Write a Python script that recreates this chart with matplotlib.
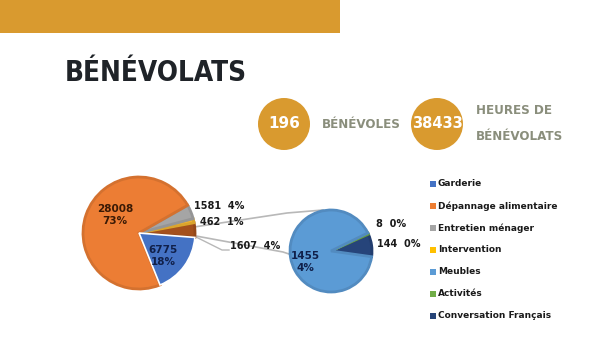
import numpy as np
import matplotlib
matplotlib.use('Agg')
import matplotlib.pyplot as plt
from matplotlib import font_manager
from matplotlib.patches import Circle, Rectangle

#------ donnees ------
main_labels = ['Autres', 'Intervention', 'Entretien ménager', 'Dépannage alimentaire', 'Garderie']
main_values = [1607, 462, 1581, 28008, 6775]
main_colors = ['#A4501C', '#F2B632', '#A5A5A5', '#EC7D34', '#4472C4']

sub_labels = ['Conversation Français', 'Activités', 'Meubles']
sub_values = [144, 8, 1455]
sub_colors = ['#26447A', '#70AD47', '#5B9BD5']

legend_labels = ['Garderie', 'Dépannage alimentaire', 'Entretien ménager', 'Intervention',
                 'Meubles', 'Activités', 'Conversation Français']
legend_colors = ['#4472C4', '#ED7D31', '#A5A5A5', '#FFC000', '#5B9BD5', '#70AD47', '#264478']

nb_benevoles = 196
nb_heures = 38433

gold = '#D99A2F'

# police condensee pour les titres (si dispo)
cond_file = None
for f in font_manager.fontManager.ttflist:
    fn = f.fname.lower()
    if ('condensed' in fn or 'narrow' in fn) and 'bold' in fn and 'italic' not in fn and 'oblique' not in fn:
        cond_file = f.fname
        break
if cond_file:
    title_fp = font_manager.FontProperties(fname=cond_file)
    tsize, ssize = 20, 9.5
else:
    title_fp = font_manager.FontProperties(family='DejaVu Sans', weight='bold')
    tsize, ssize = 16, 8

W, H = 600, 337
def Y(y):
    return H - y

fig = plt.figure(figsize=(6, 3.37), dpi=100)
ax = fig.add_axes([0, 0, 1, 1])

# bandeau
ax.add_patch(Rectangle((0, Y(33)), 340, 33, color=gold, lw=0))

ax.text(65, Y(73), 'BÉNÉVOLATS', fontproperties=title_fp, fontsize=tsize,
        color='#1F2328', va='center', ha='left')

# pastilles
sub_col = '#8A8E7C'
ax.add_patch(Circle((284, Y(124)), 26, color=gold, lw=0))
ax.text(284, Y(124), str(nb_benevoles), color='white', fontsize=11, fontweight='bold',
        ha='center', va='center')
ax.text(322, Y(124), 'BÉNÉVOLES', color=sub_col, fontproperties=title_fp, fontsize=ssize,
        ha='left', va='center')
ax.add_patch(Circle((437, Y(124)), 26, color=gold, lw=0))
ax.text(437, Y(124), str(nb_heures), color='white', fontsize=10.5, fontweight='bold',
        ha='center', va='center')
ax.text(476, Y(111), 'HEURES DE', color=sub_col, fontproperties=title_fp, fontsize=ssize,
        ha='left', va='center')
ax.text(476, Y(136), 'BÉNÉVOLATS', color=sub_col, fontproperties=title_fp, fontsize=ssize,
        ha='left', va='center')

def darker(c, f=0.85):
    r, g, b = matplotlib.colors.to_rgb(c)
    return (r * f, g * f, b * f)

# lignes de liaison (derriere)
lc = '#B8B8B8'
ax.plot([194, 287, 323], [Y(227), Y(213), Y(210)], color=lc, lw=1.2, zorder=1)
ax.plot([196, 283, 289], [Y(236), Y(252), Y(254)], color=lc, lw=1.2, zorder=1)
ax.plot([192, 222, 229], [Y(235), Y(250), Y(250)], color=lc, lw=1.0, zorder=1)

# camembert principal
tot = sum(main_values)
start = -main_values[0] / tot * 360 / 2 + 3
explode = [0, 0, 0, 0, 0.05]
wedges, _ = ax.pie(main_values, colors=main_colors, startangle=start, counterclock=True,
                   center=(139, Y(233)), radius=56, explode=explode, frame=True,
                   wedgeprops=dict(lw=0))
for w, c in zip(wedges, main_colors):
    w.set_zorder(2)
    w.set_edgecolor(darker(c, 0.9))
    w.set_linewidth(2.0)
wedges[4].set_edgecolor('white')
wedges[4].set_linewidth(1.2)

# camembert secondaire
wedges2, _ = ax.pie(sub_values, colors=sub_colors, startangle=-8, counterclock=True,
                    center=(331, Y(251)), radius=41, frame=True, wedgeprops=dict(lw=0))
for w, c in zip(wedges2, sub_colors):
    w.set_zorder(2)
    w.set_edgecolor(darker(c, 0.9))
    w.set_linewidth(2.0)

ax.set_xlim(0, W)
ax.set_ylim(0, H)
ax.set_aspect('auto')
ax.axis('off')

# etiquettes
lbl = dict(fontsize=7, fontweight='bold', color='#1A1A1A', zorder=5)
def pct(v, t):
    return '%d%%' % round(v / t * 100)

ax.text(115, Y(215), '%d\n%s' % (main_values[3], pct(main_values[3], tot)), ha='center',
        va='center', linespacing=1.2, color='#3A1A05', fontsize=7.5, fontweight='bold', zorder=5)
ax.text(163, Y(256), '%d\n%s' % (main_values[4], pct(main_values[4], tot)), ha='center',
        va='center', linespacing=1.2, color='#10204A', fontsize=7.5, fontweight='bold', zorder=5)
ax.text(194, Y(206), '%d  %s' % (main_values[2], pct(main_values[2], tot)), ha='left', va='center', **lbl)
ax.text(200, Y(222), '%d  %s' % (main_values[1], pct(main_values[1], tot)), ha='left', va='center', **lbl)
ax.text(230, Y(246), '%d  %s' % (main_values[0], pct(main_values[0], tot)), ha='left', va='center', **lbl)

ax.text(305, Y(262), '%d\n%s' % (sub_values[2], pct(sub_values[2], tot)), ha='center',
        va='center', linespacing=1.2, color='#10204A', fontsize=7.5, fontweight='bold', zorder=5)
ax.text(376, Y(224), '%d  %s' % (sub_values[1], pct(sub_values[1], tot)), ha='left', va='center', **lbl)
ax.text(377, Y(244), '%d  %s' % (sub_values[0], pct(sub_values[0], tot)), ha='left', va='center', **lbl)

# legende
for i, (name, c) in enumerate(zip(legend_labels, legend_colors)):
    yy = 184 + i * 22
    ax.add_patch(Rectangle((430, Y(yy) - 3), 6, 6, color=c, lw=0))
    ax.text(438, Y(yy), name, fontsize=6.5, fontweight='bold', color='#1A1A1A',
            ha='left', va='center')

fig.savefig('out.png', dpi=100)
